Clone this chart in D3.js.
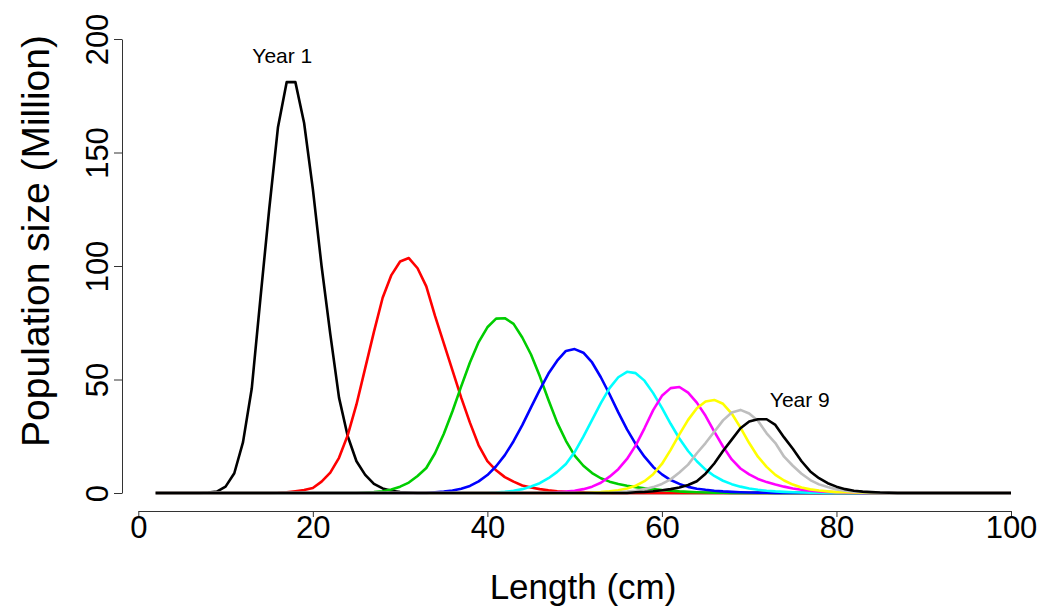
<!DOCTYPE html>
<html>
<head>
<meta charset="utf-8">
<script src="https://cdn.jsdelivr.net/npm/d3@7"></script>
<style>
  html, body { margin: 0; padding: 0; background: #fff; }
  svg { display: block; font-family: "Liberation Sans", Arial, Helvetica, sans-serif; }
</style>
</head>
<body>
<svg id="chart" width="1045" height="609"></svg>
<script>
// Length classes (cm)
const lengths = [
  2, 3, 4, 5, 6, 7, 8, 9,
  10, 11, 12, 13, 14, 15, 16, 17, 18, 19,
  20, 21, 22, 23, 24, 25, 26, 27, 28, 29,
  30, 31, 32, 33, 34, 35, 36, 37, 38, 39,
  40, 41, 42, 43, 44, 45, 46, 47, 48, 49,
  50, 51, 52, 53, 54, 55, 56, 57, 58, 59,
  60, 61, 62, 63, 64, 65, 66, 67, 68, 69,
  70, 71, 72, 73, 74, 75, 76, 77, 78, 79,
  80, 81, 82, 83, 84, 85, 86, 87, 88, 89,
  90, 91, 92, 93, 94, 95, 96, 97, 98, 99,
  100
];

// Population size (million) per length class, one array per year
const year1 = [
  0, 0, 0, 0, 0, 0, 0.2, 0.6,
  2.8, 8.7, 22.4, 46, 86, 125, 161, 181, 181, 163,
  134, 100, 70, 42, 25, 14, 8, 4, 2, 1,
  0.4, 0.2, 0, 0, 0, 0, 0, 0, 0, 0,
  0, 0, 0, 0, 0, 0, 0, 0, 0, 0,
  0, 0, 0, 0, 0, 0, 0, 0, 0, 0,
  0, 0, 0, 0, 0, 0, 0, 0, 0, 0,
  0, 0, 0, 0, 0, 0, 0, 0, 0, 0,
  0, 0, 0, 0, 0, 0, 0, 0, 0, 0,
  0, 0, 0, 0, 0, 0, 0, 0, 0, 0,
  0
];
const year2 = [
  0, 0, 0, 0, 0, 0, 0, 0,
  0, 0, 0, 0, 0, 0, 0.1, 0.3, 0.8, 1.3,
  2.2, 5, 9, 15.5, 25.5, 39, 55, 71, 86, 96,
  102, 103.5, 99, 91, 78, 66, 54, 42, 31, 21,
  14, 10, 7, 5, 3.3, 2.4, 1.7, 1.2, 0.8, 0.5,
  0.3, 0.2, 0.1, 0, 0, 0, 0, 0, 0, 0,
  0, 0, 0, 0, 0, 0, 0, 0, 0, 0,
  0, 0, 0, 0, 0, 0, 0, 0, 0, 0,
  0, 0, 0, 0, 0, 0, 0, 0, 0, 0,
  0, 0, 0, 0, 0, 0, 0, 0, 0, 0,
  0
];
const year3 = [
  0, 0, 0, 0, 0, 0, 0, 0,
  0, 0, 0, 0, 0, 0, 0, 0, 0, 0,
  0, 0, 0, 0, 0, 0, 0.2, 0.4, 0.8, 1.5,
  2.8, 4.6, 7.5, 11, 17.5, 26, 36, 47, 57.5, 66.5,
  73, 76.8, 77, 74.5, 68.5, 61, 51.5, 41, 31, 23,
  16.5, 12, 8.8, 6.5, 5, 4, 3.2, 2.6, 2.1, 1.7,
  1.3, 1, 0.7, 0.5, 0.35, 0.25, 0.15, 0.1, 0, 0,
  0, 0, 0, 0, 0, 0, 0, 0, 0, 0,
  0, 0, 0, 0, 0, 0, 0, 0, 0, 0,
  0, 0, 0, 0, 0, 0, 0, 0, 0, 0,
  0
];
const year4 = [
  0, 0, 0, 0, 0, 0, 0, 0,
  0, 0, 0, 0, 0, 0, 0, 0, 0, 0,
  0, 0, 0, 0, 0, 0, 0, 0, 0, 0,
  0, 0, 0, 0, 0.3, 0.6, 1.1, 1.9, 3.1, 5.1,
  7.9, 11.8, 16.7, 22.8, 29.9, 37.7, 45.4, 52.6, 58.3, 62.6,
  63.4, 61.8, 57.5, 51, 43.5, 35.5, 28, 21.5, 16, 11.5,
  8.2, 5.7, 4, 2.7, 1.9, 1.4, 1, 0.7, 0.5, 0.35,
  0.25, 0.15, 0.1, 0, 0, 0, 0, 0, 0, 0,
  0, 0, 0, 0, 0, 0, 0, 0, 0, 0,
  0, 0, 0, 0, 0, 0, 0, 0, 0, 0,
  0
];
const year5 = [
  0, 0, 0, 0, 0, 0, 0, 0,
  0, 0, 0, 0, 0, 0, 0, 0, 0, 0,
  0, 0, 0, 0, 0, 0, 0, 0, 0, 0,
  0, 0, 0, 0, 0, 0, 0, 0, 0, 0,
  0, 0.2, 0.5, 1, 1.7, 2.9, 4.3, 6.5, 9.3, 12.8,
  18, 24.8, 32.2, 39.6, 46.2, 51, 53.4, 52.8, 49.5, 44,
  37.5, 30.5, 24, 18.5, 14, 10.3, 7.5, 5.4, 3.9, 2.8,
  2, 1.4, 1, 0.7, 0.5, 0.35, 0.25, 0.15, 0.1, 0,
  0, 0, 0, 0, 0, 0, 0, 0, 0, 0,
  0, 0, 0, 0, 0, 0, 0, 0, 0, 0,
  0
];
const year6 = [
  0, 0, 0, 0, 0, 0, 0, 0,
  0, 0, 0, 0, 0, 0, 0, 0, 0, 0,
  0, 0, 0, 0, 0, 0, 0, 0, 0, 0,
  0, 0, 0, 0, 0, 0, 0, 0, 0, 0,
  0, 0, 0, 0, 0, 0, 0, 0, 0.3, 0.6,
  1, 1.7, 2.8, 4.5, 7.2, 10.5, 15, 21, 28.5, 36.5,
  42.8, 46.2, 46.7, 44.2, 39.8, 34, 27, 20.5, 14.8, 10.8,
  8.2, 6.2, 4.8, 3.7, 2.8, 2, 1.4, 1, 0.7, 0.5,
  0.3, 0.2, 0.1, 0, 0, 0, 0, 0, 0, 0,
  0, 0, 0, 0, 0, 0, 0, 0, 0, 0,
  0
];
const year7 = [
  0, 0, 0, 0, 0, 0, 0, 0,
  0, 0, 0, 0, 0, 0, 0, 0, 0, 0,
  0, 0, 0, 0, 0, 0, 0, 0, 0, 0,
  0, 0, 0, 0, 0, 0, 0, 0, 0, 0,
  0, 0, 0, 0, 0, 0, 0, 0, 0, 0,
  0, 0, 0.2, 0.4, 0.7, 1.2, 2, 3.2, 5.2, 8.3,
  12.8, 19, 25.8, 32.2, 37.3, 40.3, 41, 39.3, 35, 28.8,
  22, 16, 11.5, 8, 5.5, 3.7, 2.4, 1.6, 1.1, 0.7,
  0.4, 0.3, 0.2, 0.1, 0, 0, 0, 0, 0, 0,
  0, 0, 0, 0, 0, 0, 0, 0, 0, 0,
  0
];
const year8 = [
  0, 0, 0, 0, 0, 0, 0, 0,
  0, 0, 0, 0, 0, 0, 0, 0, 0, 0,
  0, 0, 0, 0, 0, 0, 0, 0, 0, 0,
  0, 0, 0, 0, 0, 0, 0, 0, 0, 0,
  0, 0, 0, 0, 0, 0, 0, 0, 0, 0,
  0, 0, 0, 0, 0, 0.3, 0.6, 1, 1.7, 2.6,
  4, 6, 9, 12.5, 17.5, 22, 27, 32, 35.5, 36.6,
  35, 31.8, 26.3, 22, 16, 12, 8.5, 5.7, 3.8, 2.6,
  1.6, 1, 0.6, 0.4, 0.2, 0.1, 0, 0, 0, 0,
  0, 0, 0, 0, 0, 0, 0, 0, 0, 0,
  0
];
const year9 = [
  0, 0, 0, 0, 0, 0, 0, 0,
  0, 0, 0, 0, 0, 0, 0, 0, 0, 0,
  0, 0, 0, 0, 0, 0, 0, 0, 0, 0,
  0, 0, 0, 0, 0, 0, 0, 0, 0, 0,
  0, 0, 0, 0, 0, 0, 0, 0, 0, 0,
  0, 0, 0, 0, 0, 0, 0, 0.3, 0.5, 0.8,
  1.2, 1.7, 2.4, 3.5, 5.2, 8.5, 13, 18.5, 23.5, 28.5,
  31.5, 32.5, 32.5, 30, 24.5, 19.5, 14, 9.5, 6.5, 4.3,
  2.8, 1.7, 1, 0.6, 0.4, 0.2, 0.1, 0, 0, 0,
  0, 0, 0, 0, 0, 0, 0, 0, 0, 0,
  0
];

const seriesValues = [year1, year2, year3, year4, year5, year6, year7, year8, year9];
const seriesColors = ["#000000", "#ff0000", "#00cd00", "#0000ff", "#00ffff",
                      "#ff00ff", "#ffff00", "#bebebe", "#000000"];

const xTicks = [0, 20, 40, 60, 80, 100];
const yTicks = [0, 50, 100, 150, 200];

const curveLabels = [
  { text: "Year 1", length: 16.5, value: 189.5 },
  { text: "Year 9", length: 75.8, value: 38 }
];

const svg = d3.select("#chart");

const x = d3.scaleLinear().domain([0, 100]).range([138.3, 1011]);
const y = d3.scaleLinear().domain([0, 200]).range([493, 39]);

// Curves, drawn in year order so later years sit on top
const line = d3.line()
  .x((d, i) => x(lengths[i]))
  .y(d => y(d));

svg.append("g")
  .selectAll("path")
  .data(seriesValues)
  .join("path")
  .attr("d", d => line(d))
  .attr("fill", "none")
  .attr("stroke", (d, i) => seriesColors[i])
  .attr("stroke-width", 2.6)
  .attr("stroke-linejoin", "round");

// Y axis
const yAxis = svg.append("g")
  .attr("transform", "translate(122,0)")
  .call(d3.axisLeft(y).tickValues(yTicks).tickSize(8).tickSizeOuter(0));
yAxis.select(".domain").attr("stroke", "#333").attr("stroke-width", 1);
yAxis.selectAll(".tick line").attr("stroke", "#333");
yAxis.selectAll(".tick text")
  .attr("x", 0)
  .attr("y", -14)
  .attr("dy", 0)
  .attr("text-anchor", "middle")
  .attr("transform", "rotate(-90)")
  .attr("font-size", 31)
  .attr("font-family", "Liberation Sans, Arial, sans-serif")
  .attr("fill", "#000");

// X axis
const xAxis = svg.append("g")
  .attr("transform", "translate(0,511)")
  .call(d3.axisBottom(x).tickValues(xTicks).tickSize(6).tickSizeOuter(0));
xAxis.select(".domain").attr("stroke", "#333").attr("stroke-width", 1);
xAxis.selectAll(".tick line").attr("stroke", "#333");
xAxis.selectAll(".tick text")
  .attr("y", 5)
  .attr("dy", "0.71em")
  .attr("font-size", 31)
  .attr("font-family", "Liberation Sans, Arial, sans-serif")
  .attr("fill", "#000");

// Axis titles
svg.append("text")
  .attr("x", 583)
  .attr("y", 599)
  .attr("text-anchor", "middle")
  .attr("font-size", 35)
  .attr("fill", "#000")
  .text("Length (cm)");

svg.append("text")
  .attr("transform", "translate(49,241) rotate(-90)")
  .attr("text-anchor", "middle")
  .attr("font-size", 39)
  .attr("fill", "#000")
  .text("Population size (Million)");

// Year annotations
svg.append("g")
  .selectAll("text")
  .data(curveLabels)
  .join("text")
  .attr("x", d => x(d.length))
  .attr("y", d => y(d.value))
  .attr("text-anchor", "middle")
  .attr("font-size", 21)
  .attr("fill", "#000")
  .text(d => d.text);
</script>
</body>
</html>
